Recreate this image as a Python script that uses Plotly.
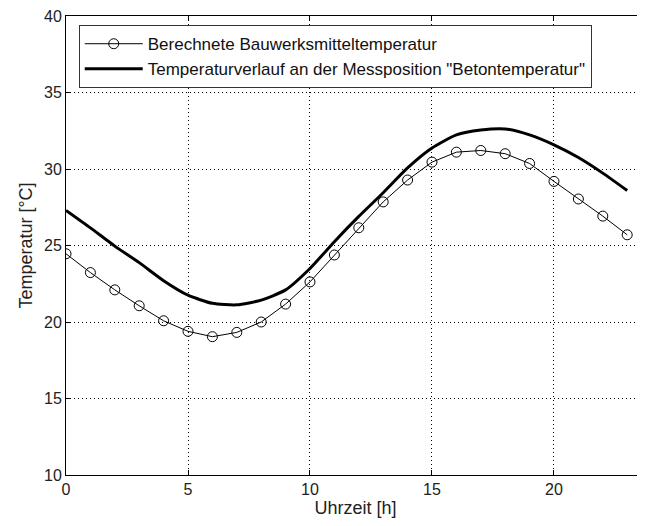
import plotly.graph_objects as go

# Uhrzeit (Stunden)
stunden = list(range(24))

# berechnete Bauwerksmitteltemperatur (Kreise)
bauwerk_temp = [24.46, 23.23, 22.10, 21.06, 20.08, 19.39, 19.04, 19.32,
                20.00, 21.17, 22.62, 24.38, 26.16, 27.85, 29.28, 30.45,
                31.10, 31.21, 31.00, 30.36, 29.19, 28.04, 26.92, 25.70]

# Temperaturverlauf an der Messposition "Betontemperatur" (dicke Linie)
beton_temp = [27.29, 26.15, 24.96, 23.88, 22.70, 21.75, 21.22, 21.12,
              21.43, 22.10, 23.50, 25.25, 26.90, 28.45, 30.07, 31.37,
              32.23, 32.55, 32.62, 32.23, 31.58, 30.75, 29.73, 28.59]

x_ticks = [0, 5, 10, 15, 20]
y_ticks = [10, 15, 20, 25, 30, 35, 40]

fig = go.Figure()

fig.add_trace(go.Scatter(
    x=stunden, y=bauwerk_temp, mode='lines+markers',
    name='Berechnete Bauwerksmitteltemperatur',
    line=dict(color='black', width=1),
    marker=dict(symbol='circle-open', size=10, color='black', line=dict(width=1)),
    legendgroup='a'))

fig.add_trace(go.Scatter(
    x=stunden, y=beton_temp, mode='lines',
    name='Temperaturverlauf an der Messposition "Betontemperatur"',
    line=dict(color='black', width=3, shape='spline', smoothing=0.6),
    legendgroup='b'))

achse = dict(
    showline=True, linecolor='black', linewidth=1,
    showgrid=True, gridcolor='black', griddash='1px,3px', gridwidth=1,
    ticks='inside', ticklen=5, tickcolor='black',
    zeroline=False, automargin=False, ticklabeloverflow='allow',
    tickfont=dict(family='Liberation Sans', size=16, color='#222'),
)

# die Seite hat 8px Rand (body margin), daher Figur etwas kleiner
fig.update_layout(
    width=637, height=518,
    margin=dict(l=58, r=0, t=8, b=51),
    paper_bgcolor='white', plot_bgcolor='white',
    font=dict(family='Liberation Sans', size=15, color='#222'),
    xaxis=dict(achse, range=[0, 23.73], tickvals=x_ticks, mirror='ticks',
               title=dict(text='Uhrzeit [h]', standoff=4)),
    yaxis=dict(achse, range=[10, 40], tickvals=y_ticks, mirror=False,
               title=dict(text='Temperatur [°C]', standoff=6)),
    legend=dict(
        x=0.022, y=0.98, xanchor='left', yanchor='top',
        bgcolor='white', bordercolor='#333', borderwidth=1,
        font=dict(family='Liberation Sans', size=17, color='#111'),
        traceorder='grouped', tracegroupgap=0, itemwidth=58,
    ),
)

fig.write_html("out.html")
